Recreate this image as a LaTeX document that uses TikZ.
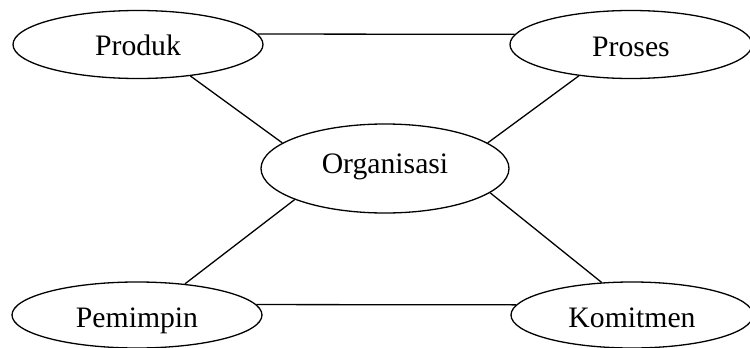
\documentclass[tikz,border=0pt]{standalone}
\usepackage{fontspec}
\setmainfont{Liberation Serif}
\usetikzlibrary{shapes.geometric}
\begin{document}
\begin{tikzpicture}[x=1pt,y=-1pt,
  oval/.style={draw,ellipse,line width=1.3pt,inner sep=0pt,text depth=0pt,font=\fontsize{29.7}{32}\selectfont},
  link/.style={line width=1.3pt}]
\useasboundingbox (0,0) rectangle (750,348);
\node[oval,minimum width=250pt,minimum height=68pt,text height=22pt] (prod) at (138,44.5) {Produk};
\node[oval,minimum width=242pt,minimum height=68pt,text height=23pt] (proc) at (631,44.5) {Proses};
\node[oval,minimum width=248pt,minimum height=89pt,text height=9pt] (org) at (385,168.5) {Organisasi};
\node[oval,minimum width=250pt,minimum height=66pt,text height=24pt] (pem) at (137,315) {Pemimpin};
\node[oval,minimum width=242pt,minimum height=66pt,text height=24pt] (kom) at (632,315) {Komitmen};
\draw[link] (prod.5) -- (proc.175);
\draw[link] (pem.5) -- (kom.175);
\draw[link] (prod.-31) -- (org.166);
\draw[link] (proc.-149) -- (org.14);
\draw[link] (org.199) -- (pem.33);
\draw[link] (org.-13) -- (kom.133);
\end{tikzpicture}
\end{document}
